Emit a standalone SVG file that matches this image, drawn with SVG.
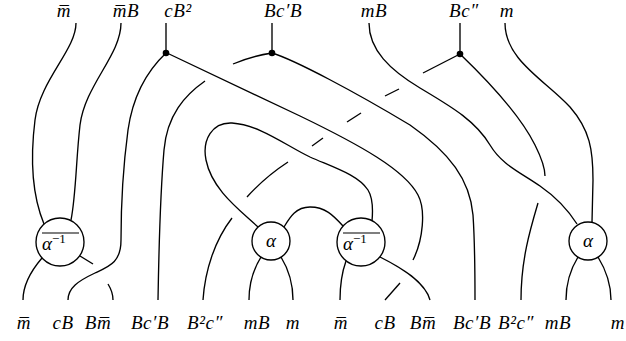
<svg xmlns="http://www.w3.org/2000/svg" width="626" height="341" viewBox="0 0 626 341">
<style>
.s{fill:none;stroke:#000;stroke-width:1.35;stroke-linecap:butt}
.c{fill:#fff;stroke:#000;stroke-width:1.35}
.d{fill:#000}
.t{font-family:"Liberation Serif","DejaVu Serif",serif;font-style:italic;font-size:19px;letter-spacing:0.6px;fill:#000}
.a{font-family:"Liberation Serif","DejaVu Serif",serif;font-style:italic;font-size:19px;fill:#000}
.bar{stroke:#000;stroke-width:1.1}
</style>
<rect width="626" height="341" fill="#fff"/>
<g id="connectors">
<path class="s" d="M76,23 C76,50 40,80 35,120 C30,160 32,195 44,224"/>
<path class="s" d="M121,23 C121,55 85,85 80,125 C76,160 76,195 71,220"/>
<path class="s" d="M42,258 C30,272 23,285 23,300"/>
<path class="s" d="M80,256 L93,264"/>
<path class="s" d="M108,284 Q113,292 113,300"/>
<path class="s" d="M166,53 C148,70 133,95 128,130 C124,160 121,200 121,240 C121,262 110,266 95,273 C78,281 68,288 68,300"/>
<path class="s" d="M205,81 C185,95 167,115 164,150 C161,185 159,240 158,300"/>
<path class="s" d="M233,64 Q252,56 272,53"/>
<path class="s" d="M167,53 L300,116 C360,145 405,170 418,195 C426,210 423,240 413,260"/>
<path class="s" d="M385,300 L400,283"/>
<path class="s" d="M203,300 C205,270 215,240 232,218"/>
<path class="s" d="M247,197 Q265,177 288,162"/>
<path class="s" d="M312,146 L323,138"/>
<path class="s" d="M347,122 L361,113"/>
<path class="s" d="M385,96 L399,89"/>
<path class="s" d="M423,73 L460,54"/>
<path class="s" d="M272,53 C295,60 355,92 410,125 C450,153 470,180 473,215 C475,245 475,270 475,300"/>
<path class="s" d="M369,23 C369,50 390,70 420,88 C450,106 475,120 490,145 C502,165 520,172 540,186 C556,197 568,210 577,224"/>
<path class="s" d="M460,54 C485,78 520,115 535,145 C541,157 545,168 545,176"/>
<path class="s" d="M538,203 C530,230 521,260 521,300"/>
<path class="s" d="M505,23 C505,60 545,80 570,107 C590,130 593,150 593,180 L592,222"/>
<path class="s" d="M578,257 C570,270 566,285 566,300"/>
<path class="s" d="M598,257 C606,270 611,285 611,300"/>
<path class="s" d="M261,257 C253,270 249,285 249,300"/>
<path class="s" d="M281,257 C289,270 293,285 293,300"/>
<path class="s" d="M284,227 C290,217 296,207 310,207 C325,207 333,215 343,226"/>
<path class="s" d="M258,227 C240,210 212,190 206,160 C202,140 212,122 232,123 C260,125 285,145 310,157 C335,168 358,175 368,190 C373,198 373,210 372,221"/>
<path class="s" d="M346,261 C341,275 340,288 340,300"/>
<path class="s" d="M380,257 C402,268 425,282 430,300"/>
<path class="s" d="M166,23 L166,53"/>
<path class="s" d="M272,23 L272,53"/>
<path class="s" d="M460,23 L460,54"/>
</g>
<g id="node-cB2"><circle class="d" cx="166" cy="53" r="3.3"/></g>
<g id="node-BcB"><circle class="d" cx="272" cy="53" r="3.3"/></g>
<g id="node-Bc2"><circle class="d" cx="460" cy="54" r="3.3"/></g>
<g id="node-alphainv-1">
<circle class="c" cx="60" cy="242" r="24"/>
<line class="bar" x1="42" y1="233" x2="79" y2="233"/>
<text class="a" x="42" y="250">α<tspan font-size="13" dy="-7" font-style="normal">−1</tspan></text>
</g>
<g id="node-alpha-1">
<circle class="c" cx="271" cy="241" r="19"/>
<text class="a" x="271" y="247" text-anchor="middle">α</text>
</g>
<g id="node-alphainv-2">
<circle class="c" cx="361" cy="242" r="24"/>
<line class="bar" x1="343" y1="233" x2="380" y2="233"/>
<text class="a" x="343" y="250">α<tspan font-size="13" dy="-7" font-style="normal">−1</tspan></text>
</g>
<g id="node-alpha-2">
<circle class="c" cx="588" cy="241" r="19"/>
<text class="a" x="588" y="247" text-anchor="middle">α</text>
</g>
<g id="labels-top">
<text class="t" x="64" y="17" text-anchor="middle">m̅</text>
<text class="t" x="126" y="17" text-anchor="middle">m̅B</text>
<text class="t" x="178" y="17" text-anchor="middle">cB²</text>
<text class="t" x="283" y="17" text-anchor="middle">Bc′B</text>
<text class="t" x="374" y="17" text-anchor="middle">mB</text>
<text class="t" x="464" y="17" text-anchor="middle">Bc″</text>
<text class="t" x="507" y="17" text-anchor="middle">m</text>
</g>
<g id="labels-bottom">
<text class="t" x="24" y="329" text-anchor="middle">m̅</text>
<text class="t" x="63" y="329" text-anchor="middle">cB</text>
<text class="t" x="98" y="329" text-anchor="middle">Bm̅</text>
<text class="t" x="150" y="329" text-anchor="middle">Bc′B</text>
<text class="t" x="205" y="329" text-anchor="middle">B²c″</text>
<text class="t" x="257" y="329" text-anchor="middle">mB</text>
<text class="t" x="293" y="329" text-anchor="middle">m</text>
<text class="t" x="341" y="329" text-anchor="middle">m̅</text>
<text class="t" x="385" y="329" text-anchor="middle">cB</text>
<text class="t" x="423" y="329" text-anchor="middle">Bm̅</text>
<text class="t" x="472" y="329" text-anchor="middle">Bc′B</text>
<text class="t" x="516" y="329" text-anchor="middle">B²c″</text>
<text class="t" x="558" y="329" text-anchor="middle">mB</text>
<text class="t" x="618" y="329" text-anchor="middle">m</text>
</g>
</svg>
